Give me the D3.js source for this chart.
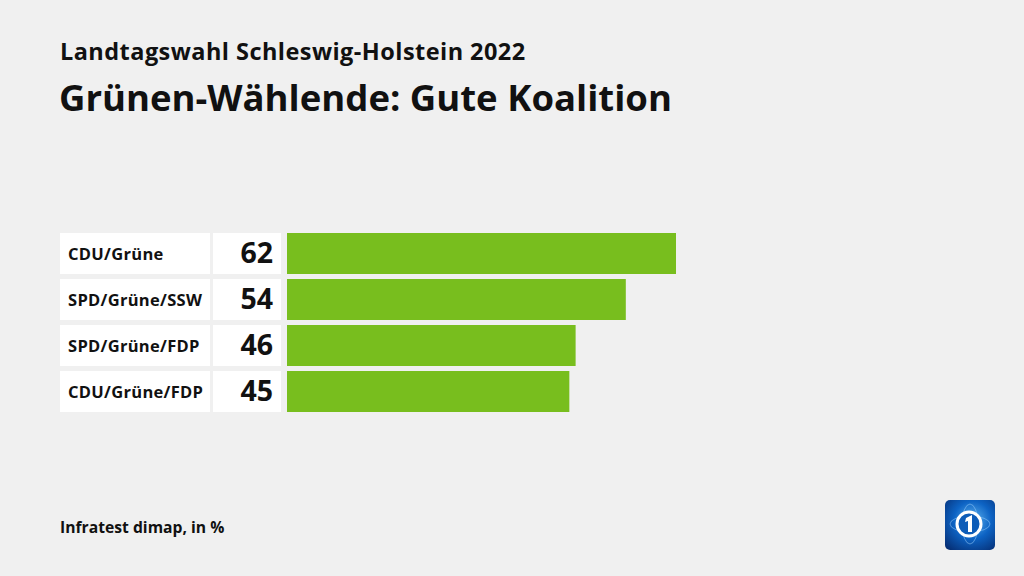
<!DOCTYPE html>
<html><head><meta charset="utf-8">
<script src="https://cdn.jsdelivr.net/npm/d3@7"></script>
<style>
html,body{margin:0;padding:0;background:#f0f0f0;}
svg{display:block;}
text{font-family:"Open Sans","Noto Sans",sans-serif;}
</style></head>
<body>
<svg id="c" width="1024" height="576"></svg>
<script>
const categories = ["CDU/Grüne","SPD/Grüne/SSW","SPD/Grüne/FDP","CDU/Grüne/FDP"];
const values = [62,54,46,45];
const supertitle = "Landtagswahl Schleswig-Holstein 2022";
const title = "Grünen-Wählende: Gute Koalition";
const source = "Infratest dimap, in %";

const svg = d3.select("#c");
svg.append("rect").attr("width",1024).attr("height",576).attr("fill","#f0f0f0");

svg.append("text").attr("x",60).attr("y",60).attr("font-size",23.5).attr("font-weight",700)
  .attr("letter-spacing",0.45).attr("fill","#111").text(supertitle);
svg.append("text").attr("x",59).attr("y",111).attr("font-size",36.5).attr("font-weight",700)
  .attr("fill","#111").text(title);
svg.append("text").attr("x",60).attr("y",533).attr("font-size",15.7).attr("font-weight",700)
  .attr("fill","#111").text(source);

const y = d3.scaleBand().domain(categories).range([233,412]).paddingInner(5/46).paddingOuter(0);
const x = d3.scaleLinear().domain([0,62]).range([287,676]);

const g = svg.append("g");
const rows = g.selectAll("g.row").data(categories).join("g").attr("class","row");
rows.append("rect").attr("x",60).attr("y",d=>y(d)).attr("width",150).attr("height",y.bandwidth()).attr("fill","#fff");
rows.append("rect").attr("x",213).attr("y",d=>y(d)).attr("width",68).attr("height",y.bandwidth()).attr("fill","#fff");
rows.append("text").attr("x",68).attr("y",d=>y(d)+y.bandwidth()/2+6).attr("font-size",16.5).attr("font-weight",700)
  .attr("letter-spacing",0.3).attr("fill","#111").text(d=>d);
rows.append("text").attr("x",273).attr("y",(d)=>y(d)+y.bandwidth()/2+9.5).attr("text-anchor","end")
  .attr("font-size",28.5).attr("font-weight",700).attr("fill","#111").text((d,i)=>values[i]);
rows.append("rect").attr("x",x(0)).attr("y",d=>y(d)).attr("width",(d,i)=>x(values[i])-x(0)).attr("height",y.bandwidth()).attr("fill","#78BE1E");

// logo
const defs = svg.append("defs");
const grad = defs.append("radialGradient").attr("id","lg").attr("cx","0.55").attr("cy","0.4").attr("r","0.75");
grad.append("stop").attr("offset","0").attr("stop-color","#5fb4f0");
grad.append("stop").attr("offset","0.5").attr("stop-color","#0d63c4");
grad.append("stop").attr("offset","1").attr("stop-color","#062f75");
const logo = svg.append("g").attr("transform","translate(945,500)");
logo.append("rect").attr("width",50).attr("height",50).attr("rx",5).attr("fill","url(#lg)");
logo.append("ellipse").attr("cx",25).attr("cy",24).attr("rx",20).attr("ry",8).attr("fill","none").attr("stroke","#9fd3ff").attr("stroke-opacity",0.5).attr("stroke-width",1);
logo.append("ellipse").attr("cx",25).attr("cy",24).attr("rx",8).attr("ry",20).attr("fill","none").attr("stroke","#9fd3ff").attr("stroke-opacity",0.5).attr("stroke-width",1);
logo.append("circle").attr("cx",24).attr("cy",24).attr("r",12).attr("fill","#0d5cb8").attr("stroke","#fff").attr("stroke-width",3);
logo.append("path").attr("d","M21 18 L27 15 L27 32 L23 32 L23 21 L20 22 Z").attr("fill","#fff");
</script>
</body></html>
